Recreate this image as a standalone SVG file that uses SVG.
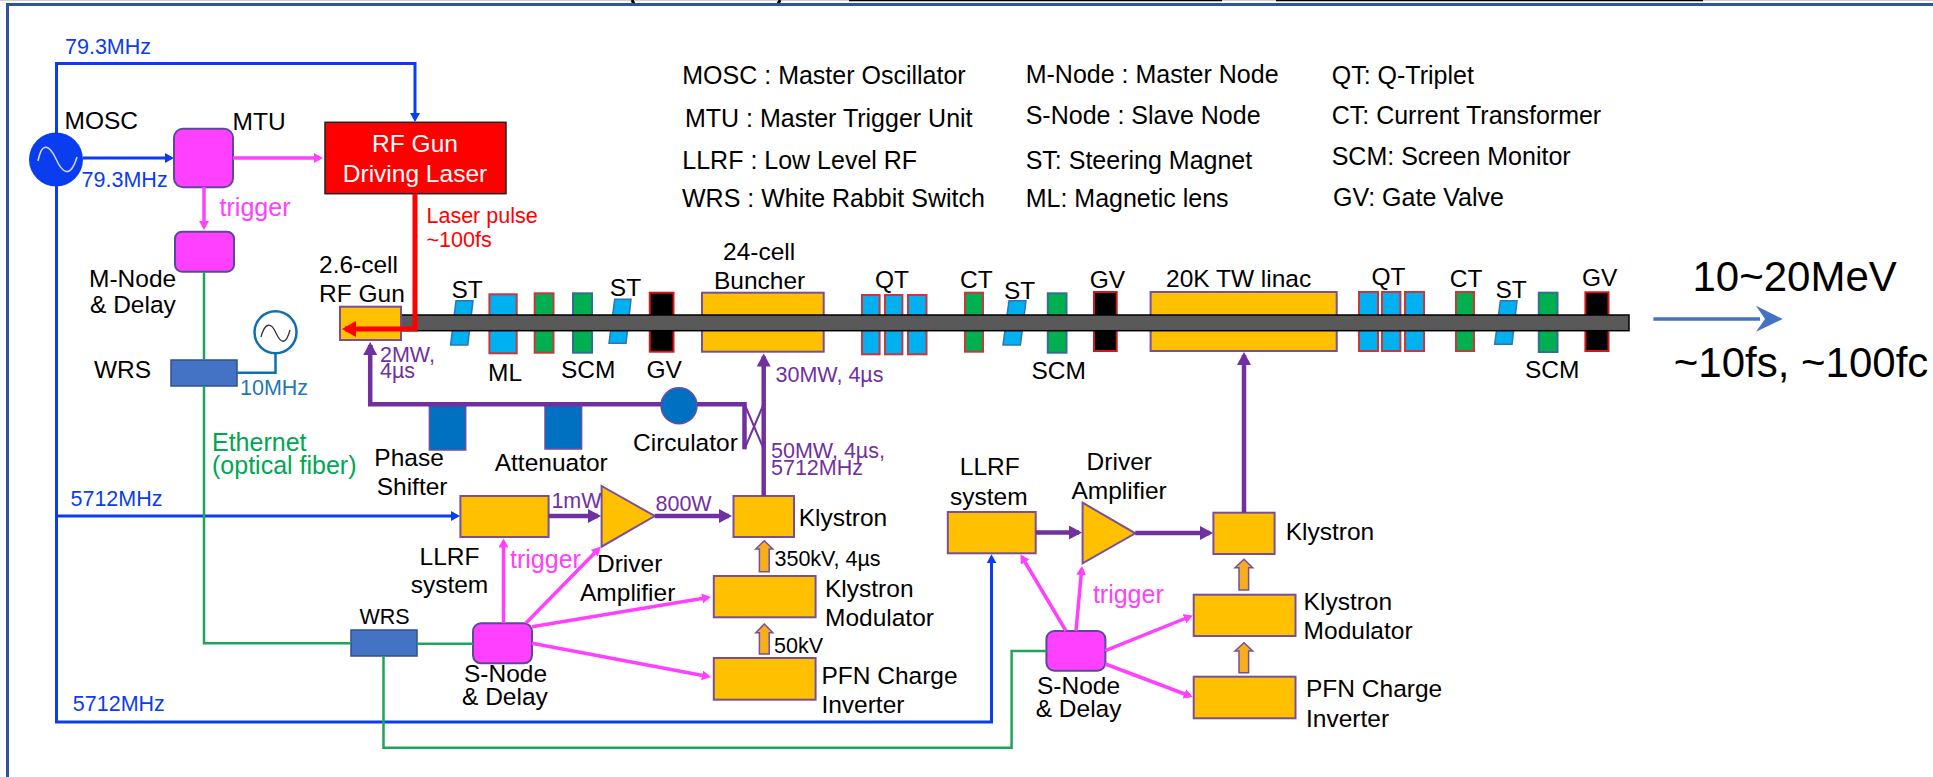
<svg xmlns="http://www.w3.org/2000/svg" width="1933" height="777" viewBox="0 0 1933 777">
<style>
text{font-family:"Liberation Sans",Arial,sans-serif;fill:#000;font-size:24.5px}
.s{font-size:21.5px}.l{font-size:25px}.xl{font-size:42px}
.blue{fill:#0a3cf0}.pur{fill:#7030a0}.pink{fill:#ff40ff}.red{fill:#f00}.grn{fill:#00a651}.sky{fill:#1f77b4}.wh{fill:#fff}
.yb{fill:#ffc000;stroke:#7a4f9a;stroke-width:2}
.mg{fill:#ff40ff;stroke:#5b4a9a;stroke-width:2}
.lb{fill:#00b0f0;stroke:#c8383a;stroke-width:2}
.st{fill:#00b0f0;stroke:#2e75b6;stroke-width:1.5}
.gr{fill:#00b050;stroke:#c8383a;stroke-width:2}
.gt{fill:#00b050;stroke:#31708f;stroke-width:2}
.gv{fill:#000;stroke:#d01818;stroke-width:2}
.db{fill:#0070c0;stroke:#6a4fa0;stroke-width:1.5}
.wb{fill:#4472c4;stroke:#2f528f;stroke-width:1.5}
.fa{fill:#f7ae1c;stroke:#7a4f9a;stroke-width:1.5}
.c{fill:none;stroke-linejoin:miter}
.cb{stroke:#0a3cf0;stroke-width:3}
.cp{stroke:#ff40ff;stroke-width:3.5}
.cg{stroke:#1fa55a;stroke-width:2.5}
.cv{stroke:#7030a0;stroke-width:4.5}
.cr{stroke:#f00;stroke-width:5}
</style>
<defs>
<marker id="hb" markerUnits="userSpaceOnUse" markerWidth="12" markerHeight="12" refX="6" refY="5" orient="auto"><path d="M0 0L9 5L0 10z" fill="#0a3cf0"/></marker>
<marker id="hp" markerUnits="userSpaceOnUse" markerWidth="12" markerHeight="12" refX="6" refY="5" orient="auto"><path d="M0 0L9 5L0 10z" fill="#ff40ff"/></marker>
<marker id="hv" markerUnits="userSpaceOnUse" markerWidth="16" markerHeight="16" refX="10" refY="7" orient="auto"><path d="M0 0L13 7L0 14z" fill="#7030a0"/></marker>
<marker id="hr" markerUnits="userSpaceOnUse" markerWidth="18" markerHeight="18" refX="11" refY="8" orient="auto"><path d="M0 0L14 8L0 16z" fill="#f00"/></marker>
</defs>

<g id="frame">
<path d="M0 .5H1933" stroke="#d0d0d0" fill="none"/>
<path d="M849 .5H1222M1276 .5H1703" stroke="#000" fill="none" stroke-width="1.5"/>
<path d="M632 0L634 4M780 0L778 4" stroke="#000" fill="none" stroke-width="3"/>
<path d="M1933 4.5H7.5V777" fill="none" stroke="#2f5597" stroke-width="3"/>
</g>

<g id="beamline-magnets">
<rect id="ML" class="lb" x="489.4" y="294.3" width="27.3" height="59"/>
<rect id="CT1" class="gr" x="534.7" y="293.3" width="18.8" height="59.4"/>
<rect id="SCM1" class="gt" x="573" y="293.3" width="19" height="59.4"/>
<rect id="GV1" class="gv" x="649.8" y="292.7" width="23.7" height="59"/>
<polygon id="ST1" class="st" points="456,300.7 473,300.7 467.8,345 450.6,345"/>
<polygon id="ST2" class="st" points="614.7,299.3 631,299.3 626,343.3 609,343.3"/>
<rect id="Buncher" class="yb" x="702" y="292.7" width="121.7" height="59"/>
<rect id="QT1a" class="lb" x="862" y="295" width="17.6" height="59.3"/>
<rect id="QT1b" class="lb" x="885" y="295" width="17.4" height="59.3"/>
<rect id="QT1c" class="lb" x="908" y="295" width="18.5" height="59.3"/>
<rect id="CT2" class="gr" x="965" y="292.7" width="18" height="59"/>
<polygon id="ST3" class="st" points="1009,300.7 1026,300.7 1020.4,345 1003,345"/>
<rect id="SCM2" class="gt" x="1047.8" y="293.3" width="18.7" height="59.4"/>
<rect id="GV2" class="gv" x="1094" y="292" width="22.7" height="59"/>
<rect id="Linac" class="yb" x="1150.6" y="292" width="186.1" height="59"/>
<rect id="QT2a" class="lb" x="1359" y="292" width="19" height="59"/>
<rect id="QT2b" class="lb" x="1382" y="292" width="18.4" height="59"/>
<rect id="QT2c" class="lb" x="1405" y="292" width="19" height="59"/>
<rect id="CT3" class="gr" x="1456" y="292" width="18" height="59"/>
<polygon id="ST4" class="st" points="1500.4,300.7 1517,300.7 1512,344.3 1494.7,344.3"/>
<rect id="SCM3" class="gt" x="1538.8" y="292.7" width="18.7" height="59.3"/>
<rect id="GV3" class="gv" x="1585.4" y="292.3" width="23.1" height="58.7"/>
<rect id="Beampipe" x="401" y="315" width="1228" height="15.7" fill="#595959" stroke="#000" stroke-width="1.5"/>
<rect id="RFGun" class="yb" x="340" y="306.7" width="61" height="33.3"/>
</g>

<g id="MOSC"><circle cx="56" cy="159.5" r="27" fill="#0a3cf0"/><path d="M38 161C42 140 50 146 56 159C62 172 70 180 77 157" fill="none" stroke="#cfd8ff" stroke-width="1.5"/><text x="64.5" y="129">MOSC</text></g>
<g id="MTU"><rect class="mg" x="174" y="128.7" width="59" height="58.6" rx="9"/><text x="232.6" y="130">MTU</text></g>
<g id="Laser"><rect x="325" y="122.3" width="181" height="71.4" fill="#f00" stroke="#222" stroke-width="1.5"/><text class="wh" x="415" y="152" text-anchor="middle">RF Gun</text><text class="wh" x="415" y="181.7" text-anchor="middle">Driving Laser</text></g>
<g id="MNode"><rect class="mg" x="175" y="231.7" width="59" height="40" rx="7"/><text x="89" y="287">M-Node</text><text x="90" y="312.7">&amp; Delay</text></g>
<g id="WRS1"><rect class="wb" x="171" y="360" width="66" height="26"/><text x="94" y="378">WRS</text></g>
<g id="Clock10"><circle cx="275.5" cy="332.3" r="21" fill="#fff" stroke="#0f6fb0" stroke-width="2.5"/><path d="M261 337C265 322 271 322 276 333C281 344 286 345 290 330" fill="none" stroke="#333" stroke-width="1.3"/></g>
<g id="WRS2"><rect class="wb" x="351" y="630" width="66" height="26"/><text class="s" x="359.4" y="624.3">WRS</text></g>
<g id="PhaseShifter"><rect class="db" x="429.4" y="405.7" width="36.3" height="44.3"/><text x="374.3" y="465.7">Phase</text><text x="376.7" y="495">Shifter</text></g>
<g id="Attenuator"><rect class="db" x="545" y="405.7" width="36.6" height="43.3"/><text x="494.7" y="471">Attenuator</text></g>
<g id="Circulator"><circle cx="679" cy="405.7" r="18" fill="#0070c0" stroke="#6a4fa0" stroke-width="1.5"/><text x="633" y="450.7">Circulator</text></g>

<g id="LLRF1"><rect class="yb" x="460.4" y="496" width="88.2" height="41"/><text x="419.6" y="565">LLRF</text><text x="410.7" y="593.3">system</text></g>
<g id="Driver1"><polygon class="yb" points="601.6,486 654.7,516 601.6,546.7"/><text x="597" y="571.7">Driver</text><text x="580" y="600.7">Amplifier</text></g>
<g id="Klystron1"><rect class="yb" x="733.5" y="496" width="60.5" height="41"/><text x="798.7" y="525.7">Klystron</text></g>
<g id="Modulator1"><rect class="yb" x="713.8" y="576" width="101.8" height="41.3"/><text x="825" y="596.7">Klystron</text><text x="825" y="626">Modulator</text></g>
<g id="PFN1"><rect class="yb" x="713.8" y="658" width="101.8" height="41.7"/><text x="821.4" y="684">PFN Charge</text><text x="821.4" y="713">Inverter</text></g>
<g id="SNode1"><rect class="mg" x="473" y="623.3" width="59" height="40" rx="8"/><text x="464" y="681.7">S-Node</text><text x="462" y="705">&amp; Delay</text></g>

<g id="LLRF2"><rect class="yb" x="947.8" y="512" width="87.9" height="41.3"/><text x="959.8" y="475">LLRF</text><text x="950" y="505">system</text></g>
<g id="Driver2"><polygon class="yb" points="1082.6,502.7 1135.3,533.3 1082.6,563.3"/><text x="1086.6" y="470">Driver</text><text x="1071.4" y="499.3">Amplifier</text></g>
<g id="Klystron2"><rect class="yb" x="1213.4" y="512.7" width="61.2" height="41.3"/><text x="1285.7" y="540">Klystron</text></g>
<g id="Modulator2"><rect class="yb" x="1193.7" y="594.7" width="101.8" height="41.3"/><text x="1303.6" y="610">Klystron</text><text x="1303.6" y="639">Modulator</text></g>
<g id="PFN2"><rect class="yb" x="1193.7" y="676.7" width="101.8" height="41.6"/><text x="1306" y="697.3">PFN Charge</text><text x="1306" y="726.7">Inverter</text></g>
<g id="SNode2"><rect class="mg" x="1046.4" y="631" width="59" height="39.7" rx="8"/><text x="1037" y="694">S-Node</text><text x="1035.7" y="716.7">&amp; Delay</text></g>

<g id="connectors" class="c">
<path class="c cb" d="M56.5 133V63.5H415V119" marker-end="url(#hb)"/>
<path class="c cb" d="M83 158H171" marker-end="url(#hb)"/>
<path class="c cb" d="M56.5 186V722H991.5V557.3" marker-end="url(#hb)"/>
<path class="c cb" d="M56.5 516H457" marker-end="url(#hb)"/>
<path class="c cp" d="M233 158H320" marker-end="url(#hp)"/>
<path class="c cp" d="M204 187V227" marker-end="url(#hp)"/>
<path class="c cg" d="M204 272V360M204 386V643.3H351M417 643.7H473"/>
<path class="c cg" d="M383.5 656V747.7H1011.6V651H1046.4"/>
<path class="c" stroke="#0f6fb0" stroke-width="2.5" d="M275.5 353V372.7H237"/>
<path class="c cr" d="M415 193.7V329H345" marker-end="url(#hr)"/>
<path class="c cv" d="M370.2 345V404.3H661M697 404.3H744.5V449.3"/>
<path class="c cv" d="M370.2 350V345" marker-end="url(#hv)"/>
<path class="c" stroke="#7030a0" stroke-width="2" d="M744.5 404L763.7 449M744.5 449L763.7 404"/>
<path class="c cv" d="M763.7 496V356.5" marker-end="url(#hv)"/>
<path class="c cv" d="M548.6 516H598" marker-end="url(#hv)"/>
<path class="c cv" d="M654.7 516H729" marker-end="url(#hv)"/>
<path class="c cv" d="M1035.7 532.5H1079" marker-end="url(#hv)"/>
<path class="c cv" d="M1135.3 533H1210" marker-end="url(#hv)"/>
<path class="c cv" d="M1244 512.7V355" marker-end="url(#hv)"/>
<path class="c cp" d="M503.5 623V541.5" marker-end="url(#hp)"/>
<path class="c cp" d="M526 623L598.5 549" marker-end="url(#hp)"/>
<path class="c cp" d="M532 626.7L708 597.5" marker-end="url(#hp)"/>
<path class="c cp" d="M532 643.3L708 676.5" marker-end="url(#hp)"/>
<path class="c cp" d="M1066 631L1022 557" marker-end="url(#hp)"/>
<path class="c cp" d="M1076 631L1081.7 569" marker-end="url(#hp)"/>
<path class="c cp" d="M1105.4 650.7L1190 616.5" marker-end="url(#hp)"/>
<path class="c cp" d="M1105.4 664L1190 696" marker-end="url(#hp)"/>
<polygon class="fa" points="764.3,540.7 772.8,549 769.2,549 769.2,571.7 759.4,571.7 759.4,549 755.8,549"/>
<polygon class="fa" points="764.3,624 772.8,632.7 769.2,632.7 769.2,654 759.4,654 759.4,632.7 755.8,632.7"/>
<polygon class="fa" points="1244,559.3 1252.7,567.7 1248.6,567.7 1248.6,590 1239,590 1239,567.7 1235,567.7"/>
<polygon class="fa" points="1244,642.7 1252.7,651 1248.6,651 1248.6,672.7 1239,672.7 1239,651 1235,651"/>
<path d="M1653.4 319H1760" fill="none" stroke="#4472c4" stroke-width="3.5"/>
<polygon points="1782.7,319 1756,305.7 1765,319 1756,331.7" fill="#4472c4"/>
</g>

<g id="labels">
<text class="s blue" x="65" y="54">79.3MHz</text>
<text class="s blue" x="81.6" y="186.7">79.3MHz</text>
<text class="s blue" x="70.5" y="506">5712MHz</text>
<text class="s blue" x="72.8" y="710.7">5712MHz</text>
<text class="l pink" x="219.6" y="216">trigger</text>
<text class="l pink" x="510" y="568">trigger</text>
<text class="l pink" x="1092.9" y="602.7">trigger</text>
<text class="s sky" x="240" y="395">10MHz</text>
<text class="s red" x="426.5" y="222.7">Laser pulse</text>
<text class="s red" x="426.5" y="246.7">~100fs</text>
<text x="319" y="273">2.6-cell</text>
<text x="319" y="301.7">RF Gun</text>
<text x="451.4" y="298.3">ST</text>
<text x="488" y="381">ML</text>
<text x="561" y="378.3">SCM</text>
<text x="609.8" y="295.7">ST</text>
<text x="646.5" y="378.3">GV</text>
<text x="723" y="260">24-cell</text>
<text x="714" y="289">Buncher</text>
<text x="875" y="287.7">QT</text>
<text x="960" y="287.7">CT</text>
<text x="1004" y="299">ST</text>
<text x="1031.4" y="379">SCM</text>
<text x="1089.8" y="287.7">GV</text>
<text x="1166" y="286.7">20K TW linac</text>
<text x="1371.4" y="285">QT</text>
<text x="1449.8" y="286.7">CT</text>
<text x="1495.5" y="298.3">ST</text>
<text x="1525" y="378.3">SCM</text>
<text x="1582" y="286">GV</text>
<text class="s pur" x="380" y="361.7">2MW,</text>
<text class="s pur" x="380" y="378.3">4µs</text>
<text class="s pur" x="775.5" y="381.7">30MW, 4µs</text>
<text class="s pur" x="771" y="458.3">50MW, 4µs,</text>
<text class="s pur" x="771" y="475">5712MHz</text>
<text class="s pur" x="551.4" y="507.7">1mW</text>
<text class="s pur" x="655.5" y="510.7">800W</text>
<text class="s" x="774.5" y="566">350kV, 4µs</text>
<text class="s" x="774" y="653.3">50kV</text>
<text class="l grn" x="212" y="451">Ethernet</text>
<text class="l grn" x="212" y="474">(optical fiber)</text>
<text class="xl" x="1692.5" y="291">10~20MeV</text>
<text class="xl" x="1673.8" y="376.7">~10fs, ~100fc</text>
</g>

<g id="legend">
<text class="l" x="682.3" y="84">MOSC : Master Oscillator</text>
<text class="l" x="685" y="126.7">MTU : Master Trigger Unit</text>
<text class="l" x="682.3" y="169">LLRF : Low Level RF</text>
<text class="l" x="682" y="207.3">WRS : White Rabbit Switch</text>
<text class="l" x="1025.7" y="83.3">M-Node : Master Node</text>
<text class="l" x="1025.7" y="124">S-Node : Slave Node</text>
<text class="l" x="1025.7" y="169">ST: Steering Magnet</text>
<text class="l" x="1025.7" y="207.3">ML: Magnetic lens</text>
<text class="l" x="1331.7" y="84">QT: Q-Triplet</text>
<text class="l" x="1331.7" y="124">CT: Current Transformer</text>
<text class="l" x="1331.7" y="165">SCM: Screen Monitor</text>
<text class="l" x="1333" y="205.7">GV: Gate Valve</text>
</g>
</svg>
